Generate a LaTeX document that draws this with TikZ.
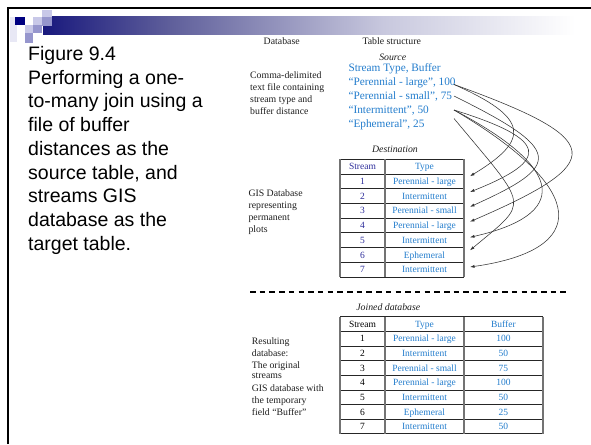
\documentclass[tikz,border=0pt]{standalone}
\usepackage{fontspec}
\setmainfont{Liberation Serif}
\newfontfamily\headsans{Liberation Sans}
\usetikzlibrary{arrows.meta}

\definecolor{srcblue}{RGB}{35,125,205}
\definecolor{numblue}{RGB}{45,45,155}
\definecolor{labelgray}{RGB}{30,30,30}
\definecolor{barA}{RGB}{25,25,125}
\definecolor{barB}{RGB}{95,95,155}
\definecolor{barC}{RGB}{200,200,222}
\definecolor{pixnavy}{RGB}{0,0,128}
\definecolor{pixlight}{RGB}{200,200,232}
\definecolor{pixmid}{RGB}{150,150,205}
\definecolor{pixpale}{RGB}{232,232,245}

\pgfdeclarehorizontalshading{barfade}{100bp}{color(0bp)=(barA); color(25bp)=(barA); color(37bp)=(barB); color(57bp)=(barC); color(75bp)=(white); color(100bp)=(white)}

\begin{document}
\begin{tikzpicture}[x=1pt,y=-1pt,
  titleline/.style={anchor=base west, inner sep=0, font=\headsans\fontsize{19.5}{23.5}\selectfont},
  lbl/.style={anchor=base west, inner sep=0, text=labelgray, font=\fontsize{9.8}{12}\selectfont},
  colhead/.style={anchor=base, inner sep=0, text=labelgray, font=\fontsize{9.8}{12}\selectfont},
  caption/.style={anchor=base, inner sep=0, text=labelgray, font=\itshape\fontsize{9.8}{12}\selectfont},
  srcline/.style={anchor=base west, inner sep=0, text=srcblue, font=\fontsize{11.3}{14}\selectfont},
  cell/.style={anchor=base, inner sep=0, font=\fontsize{9.5}{11}\selectfont},
  rule/.style={line width=0.9pt, black!85},
  colrule/.style={line width=1.4pt, black!55},
  link/.style={-{Latex[length=4.5pt,width=3pt]}, line width=0.55pt, black!80},
  divider/.style={line width=1.3pt, dash pattern=on 5.5pt off 4.2pt}]

\useasboundingbox (0,0) rectangle (591,444);
\fill[white] (0,0) rectangle (591,444);

% slide frame
\draw[line width=2.2pt] (8.3,444) -- (8.3,8.3) -- (591,8.3);

% title bar and pixel squares
\shade[shading=barfade] (43,16.7) rectangle (575,35);
\fill[pixpale] (10,16.7) rectangle (16.7,41.7);
\fill[pixnavy] (15,16.7) rectangle (25,25);
\fill[pixlight] (33.3,16.7) rectangle (41.7,25);
\fill[pixlight] (41.7,10) rectangle (51.7,16.7);
\fill[pixmid] (41.7,16.7) rectangle (51.7,26);
\fill[pixlight] (25,25) rectangle (33.3,33.3);
\fill[pixmid] (33.3,25) rectangle (41.7,33.3);
\fill[pixmid] (25,33.3) rectangle (33.3,43.3);

% caption text
\foreach \txt [count=\i from 0] in {Figure 9.4, Performing a one-, to-many join using a, file of buffer, distances as the, {source table, and}, streams GIS, database as the, target table.}
  \node[titleline] (title\i) at (28,60.3+23.75*\i) {\txt};

% column headings
\node[colhead] (hdb) at (281.7,45) {Database};
\node[colhead] (hts) at (391.7,45) {Table structure};
\node[caption] (hsrc) at (392.7,60) {Source};

% source text file
\node[lbl] (c0) at (250,78.3) {Comma-delimited};
\node[lbl] (c1) at (250,90.3) {text file containing};
\node[lbl] (c2) at (250,102.3) {stream type and};
\node[lbl] (c3) at (250,114.3) {buffer distance};

\node[srcline] (s0) at (348.3,71.3) {Stream Type, Buffer};
\node[srcline] (s1) at (348.3,85.3) {“Perennial - large”, 100};
\node[srcline] (s2) at (348.3,99.3) {“Perennial - small”, 75};
\node[srcline] (s3) at (348.3,113.3) {“Intermittent”, 50};
\node[srcline] (s4) at (348.3,127.3) {“Ephemeral”, 25};

% destination table
\node[caption] (hdst) at (395,152.3) {Destination};
\node[lbl] (g0) at (248.3,196) {GIS Database};
\node[lbl] (g1) at (248.3,208) {representing};
\node[lbl] (g2) at (248.3,220) {permanent};
\node[lbl] (g3) at (248.3,232) {plots};

\foreach \k in {0,...,8}
  \draw[rule] (340,159.3+14.72*\k) -- (464,159.3+14.72*\k);
\foreach \xx in {340,385,464}
  \draw[colrule] (\xx,159.3) -- (\xx,277.1);
\node[cell, text=numblue] (dhs) at (362.5,169.8) {Stream};
\node[cell, text=srcblue] (dht) at (424.5,169.8) {Type};
\foreach \n/\t [count=\i] in {1/Perennial - large, 2/Intermittent, 3/Perennial - small, 4/Perennial - large, 5/Intermittent, 6/Ephemeral, 7/Intermittent} {
  \node[cell, text=numblue] (dn\i) at (362.5,169.8+14.72*\i) {\n};
  \node[cell, text=srcblue] (dt\i) at (424.5,169.8+14.72*\i) {\t};
}

% join links from the source file to the destination rows
\coordinate (a100) at (454,84.5);
\coordinate (a75) at (454,96);
\coordinate (a50) at (454,110);
\coordinate (a25) at (454,118.5);
\coordinate (t1) at (470,176.2);
\coordinate (t2) at (470,192);
\coordinate (t3) at (470,206.8);
\coordinate (t4) at (470,221.7);
\coordinate (t5) at (470,237.3);
\coordinate (t6) at (470,250.3);
\coordinate (t7) at (470,267);
\draw[link] (a100) .. controls (530,118) and (530,140) .. (t1);
\draw[link] (a100) .. controls (608,140) and (608,162) .. (t4);
\draw[link] (a75) .. controls (563,150) and (563,165) .. (t3);
\draw[link] (a50) .. controls (550,140) and (550,160) .. (t2);
\draw[link] (a50) .. controls (568,170) and (568,215) .. (t5);
\draw[link] (a25) .. controls (530,210) and (530,200) .. (t6);
\draw[link] (a50) .. controls (590,190) and (590,250) .. (t7);

% separator
\coordinate (dl) at (250,292);
\coordinate (dr) at (566,292);
\draw[divider] (dl) -- (dr);

% joined table
\node[caption] (hjoin) at (388.3,310) {Joined database};
\node[lbl] (r0) at (251.7,344) {Resulting};
\node[lbl] (r1) at (251.7,356) {database:};
\node[lbl] (r2) at (251.7,368) {The original};
\node[lbl] (r3) at (251.7,378.6) {streams};
\node[lbl] (r4) at (251.7,391.6) {GIS database with};
\node[lbl] (r5) at (251.7,403.3) {the temporary};
\node[lbl] (r6) at (251.7,415) {field “Buffer”};

\foreach \k in {0,...,8}
  \draw[rule] (340,316.7+14.65*\k) -- (542.8,316.7+14.65*\k);
\foreach \xx in {340,385,464,542.8}
  \draw[colrule] (\xx,316.7) -- (\xx,433.9);
\node[cell, text=black] (jhs) at (362.5,327.2) {Stream};
\node[cell, text=srcblue] (jht) at (424.5,327.2) {Type};
\node[cell, text=srcblue] (jhb) at (503.4,327.2) {Buffer};
\foreach \n/\t/\b [count=\i] in {1/Perennial - large/100, 2/Intermittent/50, 3/Perennial - small/75, 4/Perennial - large/100, 5/Intermittent/50, 6/Ephemeral/25, 7/Intermittent/50} {
  \node[cell, text=black] (jn\i) at (362.5,327.2+14.65*\i) {\n};
  \node[cell, text=srcblue] (jt\i) at (424.5,327.2+14.65*\i) {\t};
  \node[cell, text=srcblue] (jb\i) at (503.4,327.2+14.65*\i) {\b};
}
\end{tikzpicture}
\end{document}
